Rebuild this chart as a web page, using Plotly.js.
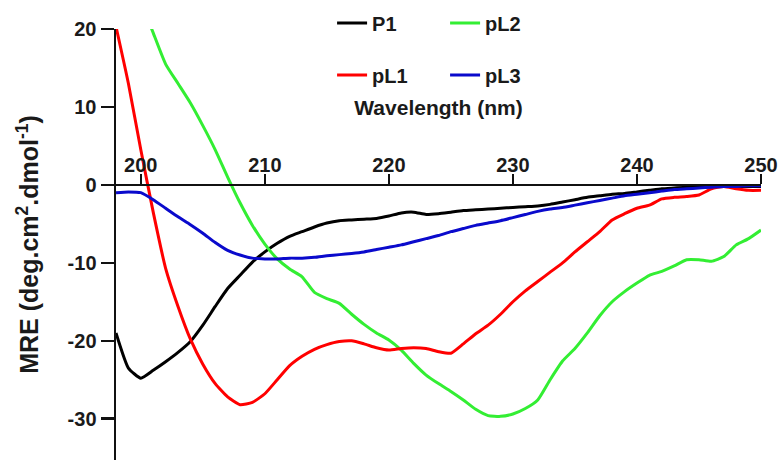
<!DOCTYPE html>
<html>
<head>
<meta charset="utf-8">
<script src="https://cdn.plot.ly/plotly-3.0.1.min.js"></script>
<style>html,body{margin:0;padding:0;background:#fff;}#chart{width:780px;height:460px;}</style>
</head>
<body>
<div id="chart"></div>
<script>
// Wavelength (nm)
const wavelength = [198,199,200,201,202,203,204,205,206,207,208,209,210,211,212,213,214,215,216,217,218,219,220,221,222,223,224,225,226,227,228,229,230,231,232,233,234,235,236,237,238,239,240,241,242,243,244,245,246,247,248,249,250];

const P1 = [-19.0,-23.5,-24.8,-23.8,-22.7,-21.5,-20.1,-18.0,-15.6,-13.3,-11.6,-9.9,-8.6,-7.5,-6.6,-6.0,-5.4,-4.9,-4.6,-4.5,-4.4,-4.3,-4.0,-3.6,-3.5,-3.8,-3.7,-3.5,-3.3,-3.2,-3.1,-3.0,-2.9,-2.8,-2.7,-2.5,-2.2,-1.9,-1.6,-1.4,-1.2,-1.1,-0.9,-0.7,-0.5,-0.4,-0.3,-0.3,-0.2,-0.2,-0.2,-0.2,-0.2];

const pL1 = [20.3,13.0,4.5,-3.5,-10.7,-15.6,-19.8,-23.0,-25.5,-27.2,-28.2,-27.9,-26.8,-25.0,-23.2,-22.0,-21.1,-20.5,-20.1,-20.0,-20.4,-20.9,-21.2,-21.0,-20.9,-21.0,-21.4,-21.6,-20.4,-19.1,-18.0,-16.6,-15.0,-13.6,-12.4,-11.2,-10.0,-8.6,-7.3,-6.0,-4.5,-3.7,-3.0,-2.6,-1.8,-1.6,-1.5,-1.3,-0.5,-0.2,-0.5,-0.7,-0.7];

const pL2 = [31.0,27.0,23.5,19.5,15.5,13.0,10.5,7.6,4.5,1.0,-2.3,-5.2,-7.6,-9.5,-10.8,-11.8,-13.8,-14.6,-15.2,-16.6,-17.9,-19.0,-19.9,-21.2,-22.9,-24.4,-25.5,-26.5,-27.6,-28.8,-29.6,-29.7,-29.4,-28.7,-27.6,-25.0,-22.6,-21.0,-19.0,-16.8,-15.0,-13.7,-12.6,-11.6,-11.1,-10.4,-9.6,-9.6,-9.8,-9.2,-7.7,-6.9,-5.8];

const pL3 = [-1.0,-0.9,-1.0,-1.9,-3.0,-4.1,-5.1,-6.2,-7.4,-8.4,-9.0,-9.4,-9.5,-9.5,-9.4,-9.4,-9.3,-9.1,-8.95,-8.8,-8.6,-8.3,-8.0,-7.7,-7.3,-6.9,-6.5,-6.0,-5.6,-5.2,-4.9,-4.6,-4.2,-3.8,-3.4,-3.1,-2.9,-2.6,-2.3,-2.0,-1.7,-1.4,-1.2,-1.0,-0.8,-0.6,-0.5,-0.4,-0.3,-0.2,-0.2,-0.1,-0.1];

const xTicks = [200,210,220,230,240,250];
const yTicks = [20,10,0,-10,-20,-30];

const FONT = 'Liberation Sans, Arial, Helvetica, sans-serif';
const TXT = '#1a1a1a';

function tr(name, y, color, legend) {
  return {x: wavelength, y: y, name: name, type: 'scatter', mode: 'lines',
          line: {color: color, width: 3, shape: 'spline', smoothing: 0.5},
          legend: legend};
}

const data = [
  tr('P1', P1, '#000000', 'legend'),
  tr('pL2', pL2, '#33ee33', 'legend'),
  tr('pL1', pL1, '#ff0000', 'legend2'),
  tr('pL3', pL3, '#0a0acc', 'legend2')
];

const yMin = -35.3, yMax = 20;
const H = 460, T = 29, PH = H - T;
function paperY(px) { return (H - px) / PH; }

const legendCommon = {orientation: 'h', font: {family: FONT, size: 20, color: TXT, weight: 'bold'},
  bgcolor: 'rgba(0,0,0,0)', xref: 'paper', yref: 'paper', xanchor: 'left', yanchor: 'middle', entrywidth: 68};

const layout = {
  width: 780, height: H,
  margin: {l: 116, r: 19, t: T, b: 0, autoexpand: false},
  paper_bgcolor: '#fff', plot_bgcolor: '#fff',
  font: {family: FONT, color: TXT},
  showlegend: true,
  legend: Object.assign({}, legendCommon, {x: 0.335, y: paperY(23)}),
  legend2: Object.assign({}, legendCommon, {x: 0.335, y: paperY(75)}),
  xaxis: {
    range: [198, 250], anchor: 'free', position: (0 - yMin) / (yMax - yMin), side: 'top',
    tickvals: xTicks, ticktext: xTicks.map(String), ticks: 'outside', ticklen: 10, tickwidth: 2, tickcolor: '#111',
    ticklabelstandoff: -6,
    showline: true, linecolor: '#111', linewidth: 2.5, showgrid: false, zeroline: false, automargin: false,
    tickfont: {family: FONT, size: 20, color: TXT, weight: 'bold'},
    title: {text: 'Wavelength (nm)', font: {family: FONT, size: 21, color: TXT, weight: 'bold'}, standoff: 31}
  },
  yaxis: {
    range: [yMin, yMax], tickvals: yTicks, ticktext: yTicks.map(String), automargin: false,
    ticks: 'outside', ticklen: 13, tickwidth: 2.5, tickcolor: '#111',
    showline: true, linecolor: '#111', linewidth: 2.5, showgrid: false, zeroline: false,
    tickfont: {family: FONT, size: 20, color: TXT, weight: 'bold'},
    title: {text: 'MRE (deg.cm<sup>2</sup>.dmol<sup>-1</sup>)', font: {family: FONT, size: 25, color: TXT, weight: 'bold'}, standoff: 22}
  }
};

Plotly.newPlot('chart', data, layout, {displayModeBar: false, staticPlot: true});
</script>
</body>
</html>
